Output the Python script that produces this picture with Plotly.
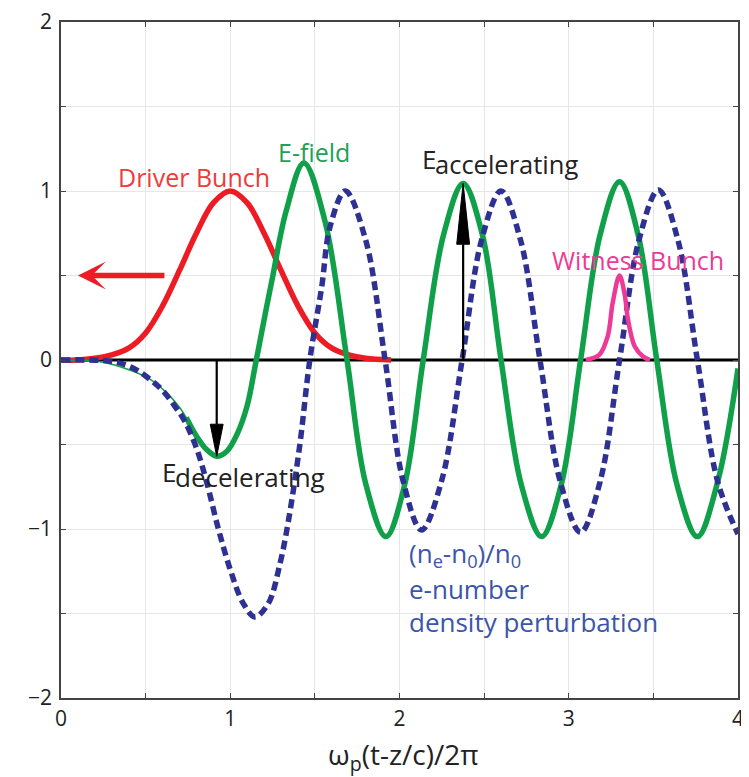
import plotly.graph_objects as go

# ---------------- data ----------------
X_TICKS = [0, 0.5, 1, 1.5, 2, 2.5, 3, 3.5, 4]
X_TICK_LABELS = ["0", "", "1", "", "2", "", "3", "", "4"]
Y_TICKS = [-2, -1.5, -1, -0.5, 0, 0.5, 1, 1.5, 2]
Y_TICK_LABELS = ["\u22122", "", "\u22121", "", "0", "", "1", "", "2"]
X_TITLE = "\u03c9<sub>p</sub>(t-z/c)/2\u03c0"

# Driver bunch (red)
driver_x = [0.0, 0.1, 0.2, 0.3, 0.4, 0.5, 0.6, 0.7, 0.8, 0.9, 1.0,
            1.1, 1.2, 1.3, 1.4, 1.5, 1.6, 1.7, 1.8, 1.95]
driver_y = [0.0, 0.0, 0.01, 0.03, 0.07, 0.16, 0.32, 0.53, 0.75, 0.93, 1.0,
            0.93, 0.75, 0.53, 0.32, 0.16, 0.07, 0.03, 0.01, 0.0]

# E-field (green): thin start and thick body
efield_thin_x = [0.0, 0.23, 0.35, 0.52, 0.62, 0.70, 0.80]
efield_thin_y = [0.0, -0.01, -0.04, -0.11, -0.19, -0.28, -0.45]
efield_x = [0.74, 0.80, 0.86, 0.92, 0.98, 1.04, 1.10, 1.15, 1.21, 1.25, 1.33, 1.435,
            1.56, 1.69, 1.80, 1.92, 2.03, 2.14, 2.26, 2.376, 2.49, 2.60,
            2.72, 2.84, 2.955, 3.07, 3.185, 3.30, 3.41, 3.52, 3.64, 3.76,
            3.88, 4.0]
efield_y = [-0.34, -0.45, -0.53, -0.57, -0.54, -0.44, -0.27, -0.02, 0.29, 0.49, 0.88, 1.166,
            0.82, 0.0, -0.73, -1.045, -0.74, 0.0, 0.74, 1.045, 0.74, 0.0,
            -0.74, -1.045, -0.74, 0.0, 0.74, 1.055, 0.74, 0.0, -0.74, -1.045,
            -0.72, -0.05]

# Electron density perturbation (blue dashed)
density_x = [0.0, 0.31, 0.43, 0.52, 0.60, 0.67, 0.73, 0.80, 0.86, 0.93, 1.0,
             1.077, 1.146, 1.225, 1.295, 1.344, 1.41, 1.47, 1.54, 1.59, 1.68,
             1.80, 1.915, 2.02, 2.13, 2.25, 2.37, 2.485, 2.60, 2.715, 2.83,
             2.95, 3.07, 3.185, 3.30, 3.415, 3.53, 3.645, 3.76, 3.88, 4.0]
density_y = [0.0, -0.01, -0.05, -0.11, -0.18, -0.27, -0.36, -0.52, -0.72, -1.0, -1.24,
             -1.44, -1.52, -1.44, -1.20, -0.95, -0.51, 0.0, 0.43, 0.79, 1.0,
             0.71, 0.0, -0.71, -1.006, -0.71, 0.0, 0.71, 1.0, 0.71, 0.0,
             -0.72, -1.02, -0.72, 0.0, 0.71, 1.006, 0.71, 0.0, -0.72, -1.03]

# Witness bunch (pink)
witness_x = [3.10, 3.18, 3.23, 3.26, 3.30, 3.33, 3.35, 3.39, 3.44, 3.48]
witness_y = [0.0, 0.03, 0.14, 0.34, 0.50, 0.39, 0.24, 0.08, 0.02, 0.0]

# Black field arrows: x position, tip value, head length (y units), half width (x units)
arrow_x = [0.92, 2.376]
arrow_tip = [-0.57, 1.045]
arrow_head_len = [0.19, 0.36]
arrow_head_half = [0.038, 0.038]

# Driver direction arrow (red)
drive_arrow_tail = (0.62, 0.5)
drive_arrow_tip = (0.10, 0.5)

RED = "#ED1C24"
GREEN = "#10A04A"
BLUE = "#2E3192"
BLUE_TXT = "#3B55A8"
PINK = "#EC3A96"
FONT = "'Open Sans', 'Noto Sans', sans-serif"

fig = go.Figure()

# zero line
fig.add_trace(go.Scatter(x=[X_TICKS[0], X_TICKS[-1]], y=[0, 0], mode="lines",
                         line=dict(color="black", width=3), hoverinfo="skip"))
fig.add_trace(go.Scatter(x=driver_x, y=driver_y, mode="lines",
                         line=dict(color=RED, width=5.5, shape="spline"), name="Driver Bunch"))
fig.add_trace(go.Scatter(x=efield_thin_x, y=efield_thin_y, mode="lines",
                         line=dict(color=GREEN, width=1.6, shape="spline"), name="E-field start"))
fig.add_trace(go.Scatter(x=efield_x, y=efield_y, mode="lines",
                         line=dict(color=GREEN, width=5.5, shape="spline"), name="E-field"))
fig.add_trace(go.Scatter(x=density_x, y=density_y, mode="lines",
                         line=dict(color=BLUE, width=5.5, shape="spline", dash="9px,5px"),
                         name="density"))
fig.add_trace(go.Scatter(x=witness_x, y=witness_y, mode="lines",
                         line=dict(color=PINK, width=4.5, shape="spline"), name="Witness Bunch"))

# black arrows built from arrow arrays
shapes = []
for ax_, tip, hl, hw in zip(arrow_x, arrow_tip, arrow_head_len, arrow_head_half):
    sgn = 1 if tip > 0 else -1
    base = tip - sgn * hl
    shapes.append(dict(type="line", xref="x", yref="y", x0=ax_, x1=ax_, y0=0, y1=base,
                       line=dict(color="black", width=2.2)))
    shapes.append(dict(type="path", xref="x", yref="y",
                       path=f"M {ax_-hw},{base} L {ax_+hw},{base} L {ax_},{tip} Z",
                       fillcolor="black", line=dict(color="black", width=1)))

annotations = [
    dict(x=drive_arrow_tip[0], y=drive_arrow_tip[1], ax=drive_arrow_tail[0], ay=drive_arrow_tail[1],
         xref="x", yref="y", axref="x", ayref="y", text="", showarrow=True,
         arrowhead=3, arrowwidth=5.5, arrowsize=0.85, arrowcolor=RED, standoff=0),
    dict(x=2.02, y=-0.086, xref="x", yref="paper", text=X_TITLE, showarrow=False,
         xanchor="center", yanchor="middle",
         font=dict(family=FONT, size=28, color="#222222")),
]

def label(x, y, text, color, size=24):
    annotations.append(dict(x=x, y=y, xref="x", yref="y", text=text, showarrow=False,
                            xanchor="left", yanchor="middle",
                            font=dict(family=FONT, size=size, color=color)))

label(0.325, 1.08, "Driver Bunch", "#EE3B3B", 25)
label(1.27, 1.23, "E-field", "#1FA055", 25)
label(2.12, 1.19, "E", "#222222", 26)
label(2.20, 1.16, "accelerating", "#222222", 25.5)
label(0.585, -0.66, "E", "#222222", 26)
label(0.66, -0.69, "decelerating", "#222222", 26)
label(2.889, 0.59, "Witness Bunch", PINK, 25)
label(2.044, -1.15, "(n<sub>e</sub>-n<sub>0</sub>)/n<sub>0</sub>", BLUE_TXT, 26)
label(2.044, -1.355, "e-number", BLUE_TXT, 26)
label(2.044, -1.55, "density perturbation", BLUE_TXT, 26)

axis_common = dict(showgrid=True, gridcolor="#E6E6E6", gridwidth=1, zeroline=False,
                   showline=True, linecolor="#444444", linewidth=1.5, mirror="ticks",
                   ticks="inside", ticklen=5, tickcolor="#444444", tickwidth=1,
                   automargin=False, ticklabeloverflow="allow",
                   tickfont=dict(family=FONT, size=21, color="#222222"))

# page body has an 8px margin, so the figure is sized to fit the 749x777 window
fig.update_layout(
    width=741, height=769,
    margin=dict(l=53, r=11, t=14, b=79),
    paper_bgcolor="white", plot_bgcolor="white",
    showlegend=False,
    shapes=shapes, annotations=annotations,
    xaxis=dict(range=[0, 4], tickvals=X_TICKS, ticktext=X_TICK_LABELS,
               ticklabelstandoff=1, **axis_common),
    yaxis=dict(range=[-2, 2], tickvals=Y_TICKS, ticktext=Y_TICK_LABELS,
               ticklabelstandoff=3, **axis_common),
)

fig.write_html("out.html")
